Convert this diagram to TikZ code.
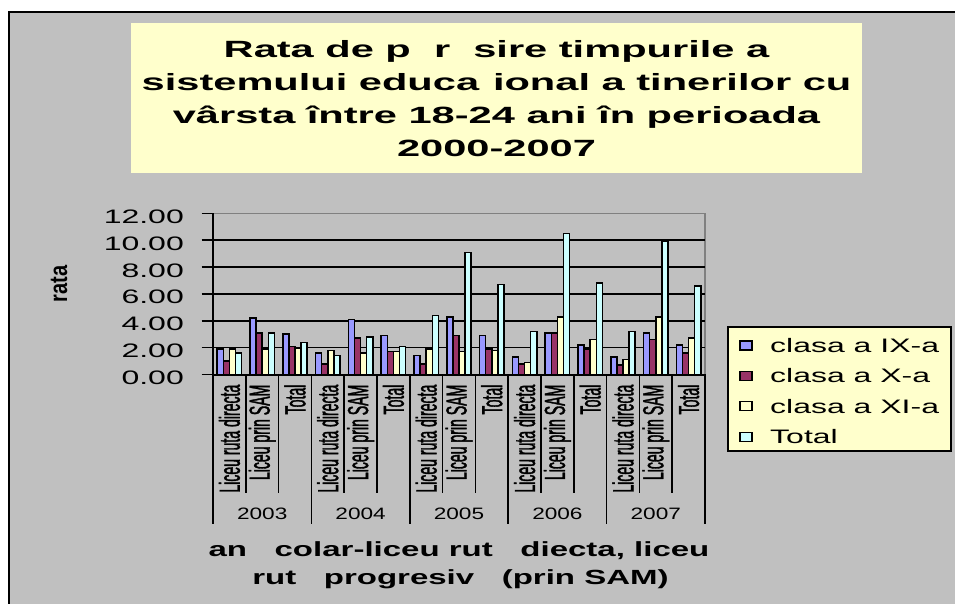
\documentclass[tikz,border=0pt]{standalone}
\usepackage{fontspec}
\setmainfont{Liberation Sans}
\newfontfamily\fTitle[FakeStretch=1.77]{Liberation Sans}
\newfontfamily\fAxis[FakeStretch=1.64]{Liberation Sans}
\newfontfamily\fCat[FakeStretch=0.485,FakeBold=1.2]{Liberation Sans}
\newfontfamily\fYear[FakeStretch=1.37]{Liberation Sans}
\newfontfamily\fXT[FakeStretch=1.61]{Liberation Sans}
\newfontfamily\fRata[FakeStretch=0.8]{Liberation Sans}
\definecolor{chartgray}{HTML}{C0C0C0}
\definecolor{paleyellow}{HTML}{FFFFCC}
\definecolor{barblue}{HTML}{9999FF}
\definecolor{barmaroon}{HTML}{993366}
\definecolor{barcyan}{HTML}{CCFFFF}
\definecolor{bordergray}{HTML}{808080}
\begin{document}
\begin{tikzpicture}[x=1pt,y=-1pt,
  bar/.style={draw=black,line width=1.5pt},
  gridln/.style={draw=black,line width=1.5pt},
  titletxt/.style={anchor=base,inner sep=0pt,font=\fTitle\bfseries\fontsize{23.5}{28}\selectfont},
  ticklbl/.style={anchor=base east,inner sep=0pt,font=\fAxis\fontsize{19.5}{22}\selectfont},
  legtxt/.style={anchor=base west,inner sep=0pt,font=\fAxis\fontsize{19.5}{22}\selectfont},
  catlbl/.style={rotate=90,anchor=east,inner sep=0pt,font=\fCat\fontsize{29}{31}\selectfont},
  yearlbl/.style={anchor=base,inner sep=0pt,font=\fYear\fontsize{16.5}{18}\selectfont},
  xtitle/.style={anchor=base,inner sep=0pt,font=\fXT\bfseries\fontsize{20.5}{24}\selectfont},
  legmark/.style={draw=black,line width=1.3pt}]
\useasboundingbox (0,0) rectangle (955,603);
\fill[white] (0,0) rectangle (955,603);
\begin{scope}
  \clip (0,0) rectangle (955,603);
  \fill[chartgray] (8.5,11.5) rectangle (970,620);
  \draw[line width=2pt] (8.5,620) -- (8.5,11.5) -- (970,11.5);
\end{scope}
% title
\fill[paleyellow] (131,23) rectangle (862,173);
\node[titletxt] (title1) at (496.5,57.5) {Rata de p\hphantom{ă}r\hphantom{ă}sire timpurile a};
\node[titletxt] (title2) at (496.5,90.5) {sistemului educa\hphantom{ţ}ional a tinerilor cu};
\node[titletxt] (title3) at (496.5,123.5) {vârsta între 18-24 ani în perioada};
\node[titletxt] (title4) at (496.5,156.5) {2000-2007};
% plot area border (gray)
\draw[bordergray,line width=1.5pt] (213,213.3) -- (705,213.3) -- (705,374.5);
% gridlines
\foreach \v in {2,4,6,8,10}{
  \draw[gridln] (213,{374.5-13.43*\v}) -- (705,{374.5-13.43*\v});
}
% ticks and labels
\foreach \v/\t in {0/0.00,2/2.00,4/4.00,6/6.00,8/8.00,10/10.00,12/12.00}{
  \draw[line width=1.5pt] (201.5,{374.5-13.43*\v}) -- (213,{374.5-13.43*\v});
  \node[ticklbl] (tick\v) at (184,{374.5-13.43*\v+10}) {\t};
}
% bars
\foreach \i/\a/\b/\c/\d in {
  0/1.9/1.0/1.9/1.6, 1/4.2/3.1/1.9/3.1, 2/3.0/2.1/1.95/2.4,
  3/1.6/0.8/1.8/1.4, 4/4.1/2.7/1.6/2.8, 5/2.9/1.7/1.7/2.1,
  6/1.4/0.8/1.9/4.4, 7/4.3/2.9/1.7/9.1, 8/2.9/1.9/1.8/6.7,
  9/1.3/0.8/0.9/3.2, 10/3.1/3.1/4.3/10.5, 11/2.2/1.9/2.6/6.8,
  12/1.3/0.7/1.1/3.2, 13/3.1/2.6/4.3/9.9, 14/2.2/1.6/2.7/6.6}{
  \pgfmathsetmacro\xs{217.2+32.8*\i}
  \draw[bar,fill=barblue] (\xs,374.5) rectangle ({\xs+6.1},{374.5-13.43*\a});
  \draw[bar,fill=barmaroon] ({\xs+6.1},374.5) rectangle ({\xs+12.2},{374.5-13.43*\b});
  \draw[bar,fill=paleyellow] ({\xs+12.2},374.5) rectangle ({\xs+18.3},{374.5-13.43*\c});
  \draw[bar,fill=barcyan] ({\xs+18.3},374.5) rectangle ({\xs+24.4},{374.5-13.43*\d});
}
% axes
\draw[line width=2pt] (213,213.3) -- (213,374.5);
\draw[line width=2pt] (212,374.5) -- (706,374.5);
% category separators
\foreach \k in {0,...,15}{
  \pgfmathtruncatemacro\m{mod(\k,3)}
  \ifnum\m=0
    \draw[line width=1.5pt] ({213+32.8*\k},374.5) -- ({213+32.8*\k},524);
  \else
    \draw[line width=1.5pt] ({213+32.8*\k},374.5) -- ({213+32.8*\k},493);
  \fi
}
% category labels
\foreach \g in {0,...,4}{
  \foreach \j/\t in {0/Liceu ruta directa,1/Liceu prin SAM,2/Total}{
    \node[catlbl] (cat-\g-\j) at ({213+32.8*(3*\g+\j)+16.4},384.5) {\t};
  }
}
\foreach \g/\y in {0/2003,1/2004,2/2005,3/2006,4/2007}{
  \node[yearlbl] (year\y) at ({213+98.4*\g+49.2},519) {\y};
}
% axis titles
\node[xtitle] (xt1) at (459,556.5) {an \hphantom{ş}colar-liceu rut\hphantom{ă} diecta, liceu};
\node[xtitle] (xt2) at (460.5,584) {rut\hphantom{ă} progresiv\hphantom{ă} (prin SAM)};
\node[rotate=90,inner sep=0pt,font=\fRata\bfseries\fontsize{25}{27}\selectfont] (ytitle) at (59,284) {rata};
% legend
\draw[fill=paleyellow,line width=2pt] (727.5,326.5) rectangle (950.5,450.5);
\foreach \r/\col/\t in {0/barblue/clasa a IX-a,1/barmaroon/clasa a X-a,2/paleyellow/clasa a XI-a,3/barcyan/Total}{
  \draw[legmark,fill=\col] (740,{345.5+30.4*\r-4.5}) rectangle (752,{345.5+30.4*\r+4.5});
  \node[legtxt] (leg\r) at (770,{345.5+30.4*\r+7}) {\t};
}
\end{tikzpicture}
\end{document}
